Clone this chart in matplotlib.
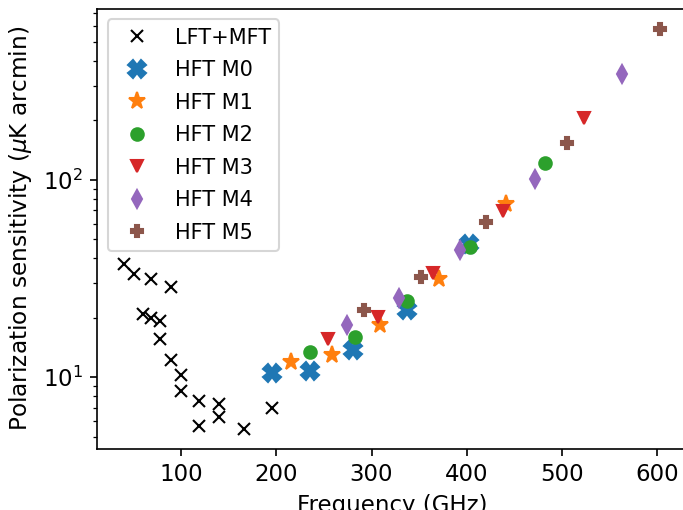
import matplotlib
matplotlib.use("Agg")
import matplotlib.pyplot as plt

# LFT + MFT bands
lft_mft_freq = [40, 50, 60, 68, 68, 78, 78, 89, 89, 100, 100, 119, 119, 140, 140, 166, 195]
lft_mft_sens = [37.4, 33.5, 21.0, 19.9, 31.5, 15.6, 19.3, 12.2, 28.5, 10.3, 8.5, 7.6, 5.65, 7.3, 6.3, 5.5, 7.0]

# HFT modules
m0_freq = [195, 235, 280, 337, 402]
m0_sens = [10.5, 10.8, 13.8, 21.9, 47.4]
m1_freq = [215, 258, 309, 371, 441]
m1_sens = [12.0, 12.9, 18.3, 31.6, 75.6]
m2_freq = [235, 283, 337, 404, 482]
m2_sens = [13.4, 16.0, 24.2, 45.9, 121.5]
m3_freq = [254, 307, 365, 438, 523]
m3_sens = [15.6, 20.3, 33.6, 69.3, 205.0]
m4_freq = [274, 329, 393, 472, 563]
m4_sens = [18.3, 25.2, 44.2, 101.0, 343.0]
m5_freq = [292, 352, 420, 505, 603]
m5_sens = [22.0, 32.0, 60.8, 153.0, 580.0]

labels = ["LFT+MFT", "HFT M0", "HFT M1", "HFT M2", "HFT M3", "HFT M4", "HFT M5"]

DPI = 150
fig = plt.figure(figsize=(684 / DPI, 510 / DPI), dpi=DPI)
ax = fig.add_axes([97.5 / 684, 1 - 448.5 / 510, (686.5 - 97.5) / 684, (448.5 - 9) / 510])

ax.plot(lft_mft_freq, lft_mft_sens, linestyle="none", marker="x", color="black", ms=6, label=labels[0])
ax.plot(m0_freq, m0_sens, linestyle="none", marker="X", color="C0", ms=8.5, label=labels[1])
ax.plot(m1_freq, m1_sens, linestyle="none", marker="*", color="C1", ms=8.5, label=labels[2])
ax.plot(m2_freq, m2_sens, linestyle="none", marker="o", color="C2", ms=6, label=labels[3])
ax.plot(m3_freq, m3_sens, linestyle="none", marker="v", color="C3", ms=6, label=labels[4])
ax.plot(m4_freq, m4_sens, linestyle="none", marker="d", color="C4", ms=6, label=labels[5])
ax.plot(m5_freq, m5_sens, linestyle="none", marker="P", color="C5", ms=6, label=labels[6])

ax.set_yscale("log")
ax.tick_params(axis="both", which="major", labelsize=11)
ax.set_xlabel("Frequency (GHz)", fontsize=11)
ax.set_ylabel(r"Polarization sensitivity ($\mu$K arcmin)", fontsize=11.2)
ax.legend(loc="upper left", fontsize=10, labelspacing=0.6)

fig.savefig("out.png", dpi=DPI)
